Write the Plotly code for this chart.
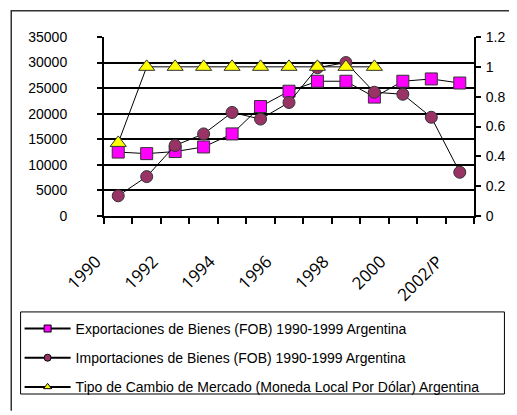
import plotly.graph_objects as go

years = ["1990", "1991", "1992", "1993", "1994", "1995", "1996",
         "1997", "1998", "1999", "2000", "2001", "2002/P"]
tick_labels = ["1990", "", "1992", "", "1994", "", "1996", "", "1998", "", "2000", "", "2002/P"]

exportaciones = [12500, 12200, 12600, 13500, 16050, 21400, 24400,
                 26350, 26350, 23250, 26350, 26800, 26000]
importaciones = [3950, 7700, 13800, 16050, 20250, 18950, 22200,
                 29000, 30000, 24200, 23800, 19300, 8550]
tipo_cambio = [0.49, 1, 1, 1, 1, 1, 1, 1, 1, 1, None, None, None]

names = ["Exportaciones de Bienes (FOB) 1990-1999 Argentina",
         "Importaciones de Bienes (FOB) 1990-1999 Argentina",
         "Tipo de Cambio de Mercado (Moneda Local Por Dólar) Argentina"]

idx = list(range(len(years)))
OFF = 8  # page body margin
W, H = 517 - OFF, 415 - OFF
L, R, T, B = 103 - OFF, 37, 37 - OFF, 197
pw, ph = W - L - R, H - T - B

def px(x):  # screen x -> paper
    return (x - OFF - L) / pw

def py(y):  # screen y -> paper
    return (H - B - (y - OFF)) / ph

sans = "Liberation Sans, Arial, sans-serif"

fig = go.Figure()
fig.add_trace(go.Scatter(x=idx, y=exportaciones, mode="lines+markers", name=names[0],
                         line=dict(color="black", width=1),
                         marker=dict(symbol="square", size=12, color="#FF00FF",
                                     line=dict(color="#333333", width=1)),
                         showlegend=False))
fig.add_trace(go.Scatter(x=idx, y=importaciones, mode="lines+markers", name=names[1],
                         line=dict(color="black", width=1),
                         marker=dict(symbol="circle", size=12, color="#993366",
                                     line=dict(color="#333333", width=1)),
                         showlegend=False))
fig.add_trace(go.Scatter(x=idx, y=tipo_cambio, mode="lines+markers", name=names[2],
                         yaxis="y2",
                         line=dict(color="black", width=1),
                         marker=dict(symbol="triangle-up", size=14, color="#FFFF00",
                                     line=dict(color="#333333", width=1)),
                         showlegend=False))

# legend entries with small markers
leg_styles = [("square", "#FF00FF"), ("circle", "#993366"), ("triangle-up", "#FFFF00")]
for i, (sym, col) in enumerate(leg_styles):
    fig.add_trace(go.Scatter(x=[None], y=[None], mode="lines+markers", name=names[i],
                             legendgroup=str(i),
                             line=dict(color="black", width=2),
                             marker=dict(symbol=sym, size=7, color=col,
                                         line=dict(color="black", width=1))))

fig.update_layout(
    width=W, height=H,
    margin=dict(l=L, r=R, t=T, b=B),
    paper_bgcolor="white", plot_bgcolor="white",
    font=dict(family=sans, size=14, color="black"),
    xaxis=dict(range=[-0.5, len(years) - 0.5], tickmode="array", tickvals=idx,
               ticktext=tick_labels, tickangle=-45, ticks="outside", ticklen=0,
               showgrid=False, zeroline=False, showline=True, linecolor="black", linewidth=2,
               tickfont=dict(family="Open Sans, sans-serif", size=17, color="black"),
               ticklabelstandoff=27, ticklabelshift=-22,
               minor=dict(ticks="outside", ticklen=6, tickwidth=2, tickcolor="black",
                          tick0=-0.5, dtick=1, showgrid=False)),
    yaxis=dict(range=[0, 35000], dtick=5000, tickformat="d", ticks="outside", ticklen=5,
               tickwidth=2, tickcolor="black", tickfont=dict(size=14),
               showgrid=True, gridcolor="black", gridwidth=2, zeroline=False,
               showline=True, linecolor="black", linewidth=2, ticklabelstandoff=27),
    yaxis2=dict(range=[0, 1.2], dtick=0.2, overlaying="y", side="right", ticks="outside",
                ticklen=5, tickwidth=2, tickcolor="black", tickfont=dict(size=14),
                showgrid=False, zeroline=False,
                showline=True, linecolor="black", linewidth=2, ticklabelstandoff=2),
    legend=dict(x=px(17), y=py(316), xanchor="left", yanchor="top",
                bgcolor="rgba(0,0,0,0)", borderwidth=0, itemwidth=46,
                tracegroupgap=8, font=dict(family=sans, size=14)),
    shapes=[
        dict(type="line", xref="paper", yref="paper", x0=px(8.5), x1=px(8.5),
             y0=py(10), y1=py(415), line=dict(color="#333333", width=1.5)),
        dict(type="line", xref="paper", yref="paper", x0=px(8), x1=px(517),
             y0=py(10.5), y1=py(10.5), line=dict(color="#333333", width=1.5)),
        dict(type="rect", xref="paper", yref="paper", x0=px(18), x1=px(511),
             y0=py(315), y1=py(398), line=dict(color="black", width=1)),
    ],
)

fig.write_html("out.html")
